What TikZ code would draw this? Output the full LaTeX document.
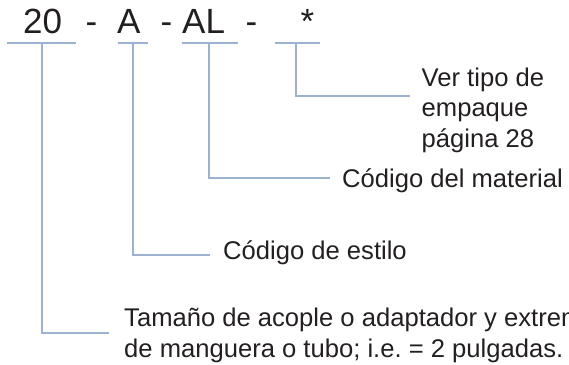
\documentclass[tikz,border=0pt]{standalone}
\usepackage{fontspec}
\setmainfont{Liberation Sans}
\frenchspacing
\definecolor{leadcol}{HTML}{9DB1D1}
\definecolor{inkcol}{HTML}{231F20}
\tikzset{
  partcode/.style={anchor=base west, inner sep=0pt, text=inkcol,
    font=\fontsize{35}{42}\selectfont},
  partnote/.style={anchor=base west, inner sep=0pt, align=left, text=inkcol,
    font=\fontsize{25.6}{30.5}\selectfont},
  leader/.style={draw=leadcol, line width=1.8pt}
}

\begin{document}
\begin{tikzpicture}[x=1pt, y=-1pt]
\useasboundingbox (0,0) rectangle (569,364);
% the code
\node[partcode] (size) at (23,33) {20};
\node[partcode] (dasha) at (85.5,33) {-};
\node[partcode] (style) at (117,33) {A};
\node[partcode] (dashb) at (160.5,33) {-};
\node[partcode] (mat) at (182,33) {AL};
\node[partcode] (dashc) at (245.5,33) {-};
\node[partcode] (seal) at (300.5,33) {*};
% underlines
\draw[leader] (7,43) -- (76,43);
\draw[leader] (118,43) -- (148,43);
\draw[leader] (182,43) -- (238,43);
\draw[leader] (275,43) -- (320,43);
\coordinate (usize) at (42,43);
\coordinate (ustyle) at (133,43);
\coordinate (umat) at (209,43);
\coordinate (useal) at (296,43);
% leaders
\coordinate (esize) at (109,333);
\coordinate (estyle) at (210,255);
\coordinate (emat) at (330,178);
\coordinate (eseal) at (410,96);
\draw[leader] (usize) |- (esize);
\draw[leader] (ustyle) |- (estyle);
\draw[leader] (umat) |- (emat);
\draw[leader] (useal) |- (eseal);
% notes (base = last line)
\node[partnote] (nseal) at (421.5,147) {Ver tipo de\\empaque\\página 28};
\node[partnote] (nmat) at (342,187) {Código del material};
\node[partnote] (nstyle) at (223,259) {Código de estilo};
\node[partnote] (nsize) at (124,357) {Tamaño de acople o adaptador y extremo\\de manguera o tubo; i.e. = 2 pulgadas.};
\end{tikzpicture}
\end{document}
